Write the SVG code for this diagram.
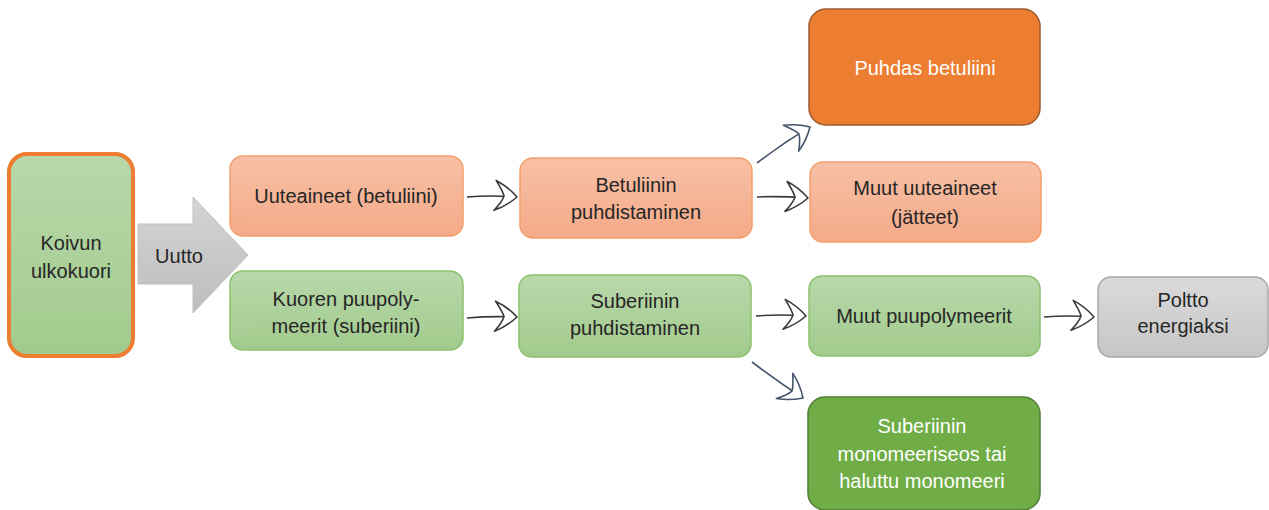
<svg xmlns="http://www.w3.org/2000/svg" width="1269" height="510" viewBox="0 0 1269 510">
<defs>
<linearGradient id="gOr" x1="0" y1="0" x2="0" y2="1"><stop offset="0" stop-color="#F7C0A6"/><stop offset="1" stop-color="#F4AA88"/></linearGradient>
<linearGradient id="gGr" x1="0" y1="0" x2="0" y2="1"><stop offset="0" stop-color="#B8D8AA"/><stop offset="1" stop-color="#A2CA8D"/></linearGradient>
<linearGradient id="gGy" x1="0" y1="0" x2="0" y2="1"><stop offset="0" stop-color="#DADADA"/><stop offset="1" stop-color="#C6C6C6"/></linearGradient>
<linearGradient id="gAr" x1="0" y1="0" x2="0" y2="1"><stop offset="0" stop-color="#D4D4D4"/><stop offset="1" stop-color="#BDBDBD"/></linearGradient>
<marker id="ahD" markerUnits="userSpaceOnUse" markerWidth="34" markerHeight="36" viewBox="-27 -18 31 36" refX="0" refY="0" orient="auto">
<path d="M0,0 C-6,-6 -15,-12 -22,-15 C-17,-8 -14,-3 -13,0 C-14,4 -17,9 -22,15 C-15,12 -6,6 0,0 Z" fill="#fff" stroke="#3A3A3A" stroke-width="1.6" stroke-linejoin="round"/>
</marker>
<marker id="ahB" markerUnits="userSpaceOnUse" markerWidth="34" markerHeight="36" viewBox="-27 -18 31 36" refX="0" refY="0" orient="auto">
<path d="M0,0 C-6,-6 -15,-12 -22,-15 C-17,-8 -14,-3 -13,0 C-14,4 -17,9 -22,15 C-15,12 -6,6 0,0 Z" fill="#fff" stroke="#44546A" stroke-width="1.6" stroke-linejoin="round"/>
</marker>
</defs>
<style>
text{font-family:"Liberation Sans",Arial,sans-serif;font-size:20px;fill:#262626;text-anchor:middle}
.w{fill:#ffffff}
.or{fill:url(#gOr);stroke:#F4A06C;stroke-width:1.5}
.gr{fill:url(#gGr);stroke:#8CC16E;stroke-width:1.5}
.cd{fill:none;stroke:#3A3A3A;stroke-width:1.6}
.cb{fill:none;stroke:#44546A;stroke-width:1.6}
</style>
<rect width="1269" height="510" fill="#ffffff"/>
<g id="connectors">
<path class="cd" d="M467,197 Q490,195 517,197" marker-end="url(#ahD)"/>
<path class="cd" d="M467,318 Q490,316 517,317" marker-end="url(#ahD)"/>
<path class="cd" d="M757,197 Q780,196 808,198" marker-end="url(#ahD)"/>
<path class="cb" d="M757,163 Q783,143 810,127" marker-end="url(#ahB)"/>
<path class="cd" d="M756,316 Q780,314 806,316" marker-end="url(#ahD)"/>
<path class="cb" d="M752,362 Q777,381 803,398" marker-end="url(#ahB)"/>
<path class="cd" d="M1044,317 Q1068,315 1094,317" marker-end="url(#ahD)"/>
</g>
<g id="koivun">
<rect x="9" y="154" width="124" height="202" rx="18" fill="url(#gGr)" stroke="#ED7D31" stroke-width="4"/>
<text x="71" y="250">Koivun</text>
<text x="71" y="278">ulkokuori</text>
</g>
<g id="uutto">
<path d="M138,224 L193,224 L193,197 L248,255 L193,313 L193,284 L138,284 Z" fill="url(#gAr)" stroke="#BFBFBF" stroke-width="1"/>
<text x="179" y="263">Uutto</text>
</g>
<g id="uuteaineet">
<rect x="230" y="156" width="233" height="80" rx="13" class="or"/>
<text x="346" y="203">Uuteaineet (betuliini)</text>
</g>
<g id="kuoren">
<rect x="230" y="271" width="233" height="79" rx="13" class="gr"/>
<text x="346" y="306">Kuoren puupoly-</text>
<text x="346" y="333">meerit (suberiini)</text>
</g>
<g id="betuliinin">
<rect x="520" y="158" width="232" height="80" rx="13" class="or"/>
<text x="636" y="192">Betuliinin</text>
<text x="636" y="219">puhdistaminen</text>
</g>
<g id="suberiinin">
<rect x="519" y="275" width="232" height="82" rx="13" class="gr"/>
<text x="635" y="308">Suberiinin</text>
<text x="635" y="335">puhdistaminen</text>
</g>
<g id="puhdas">
<rect x="809" y="9" width="231" height="116" rx="17" fill="#ED7D31" stroke="#9E5A2C" stroke-width="1.5"/>
<text x="925" y="75" class="w">Puhdas betuliini</text>
</g>
<g id="muut-uuteaineet">
<rect x="810" y="162" width="231" height="80" rx="13" class="or"/>
<text x="925" y="195">Muut uuteaineet</text>
<text x="925" y="224">(jätteet)</text>
</g>
<g id="muut-puupolymeerit">
<rect x="809" y="276" width="231" height="80" rx="13" class="gr"/>
<text x="924" y="323">Muut puupolymeerit</text>
</g>
<g id="poltto">
<rect x="1098" y="277" width="170" height="80" rx="13" fill="url(#gGy)" stroke="#A8A8A8" stroke-width="1.5"/>
<text x="1183" y="307">Poltto</text>
<text x="1183" y="333">energiaksi</text>
</g>
<g id="monomeeri">
<rect x="808" y="397" width="232" height="113" rx="17" fill="#70AD47" stroke="#507E32" stroke-width="1.5"/>
<text x="922" y="433" class="w">Suberiinin</text>
<text x="922" y="461" class="w">monomeeriseos tai</text>
<text x="922" y="488" class="w">haluttu monomeeri</text>
</g>
</svg>
